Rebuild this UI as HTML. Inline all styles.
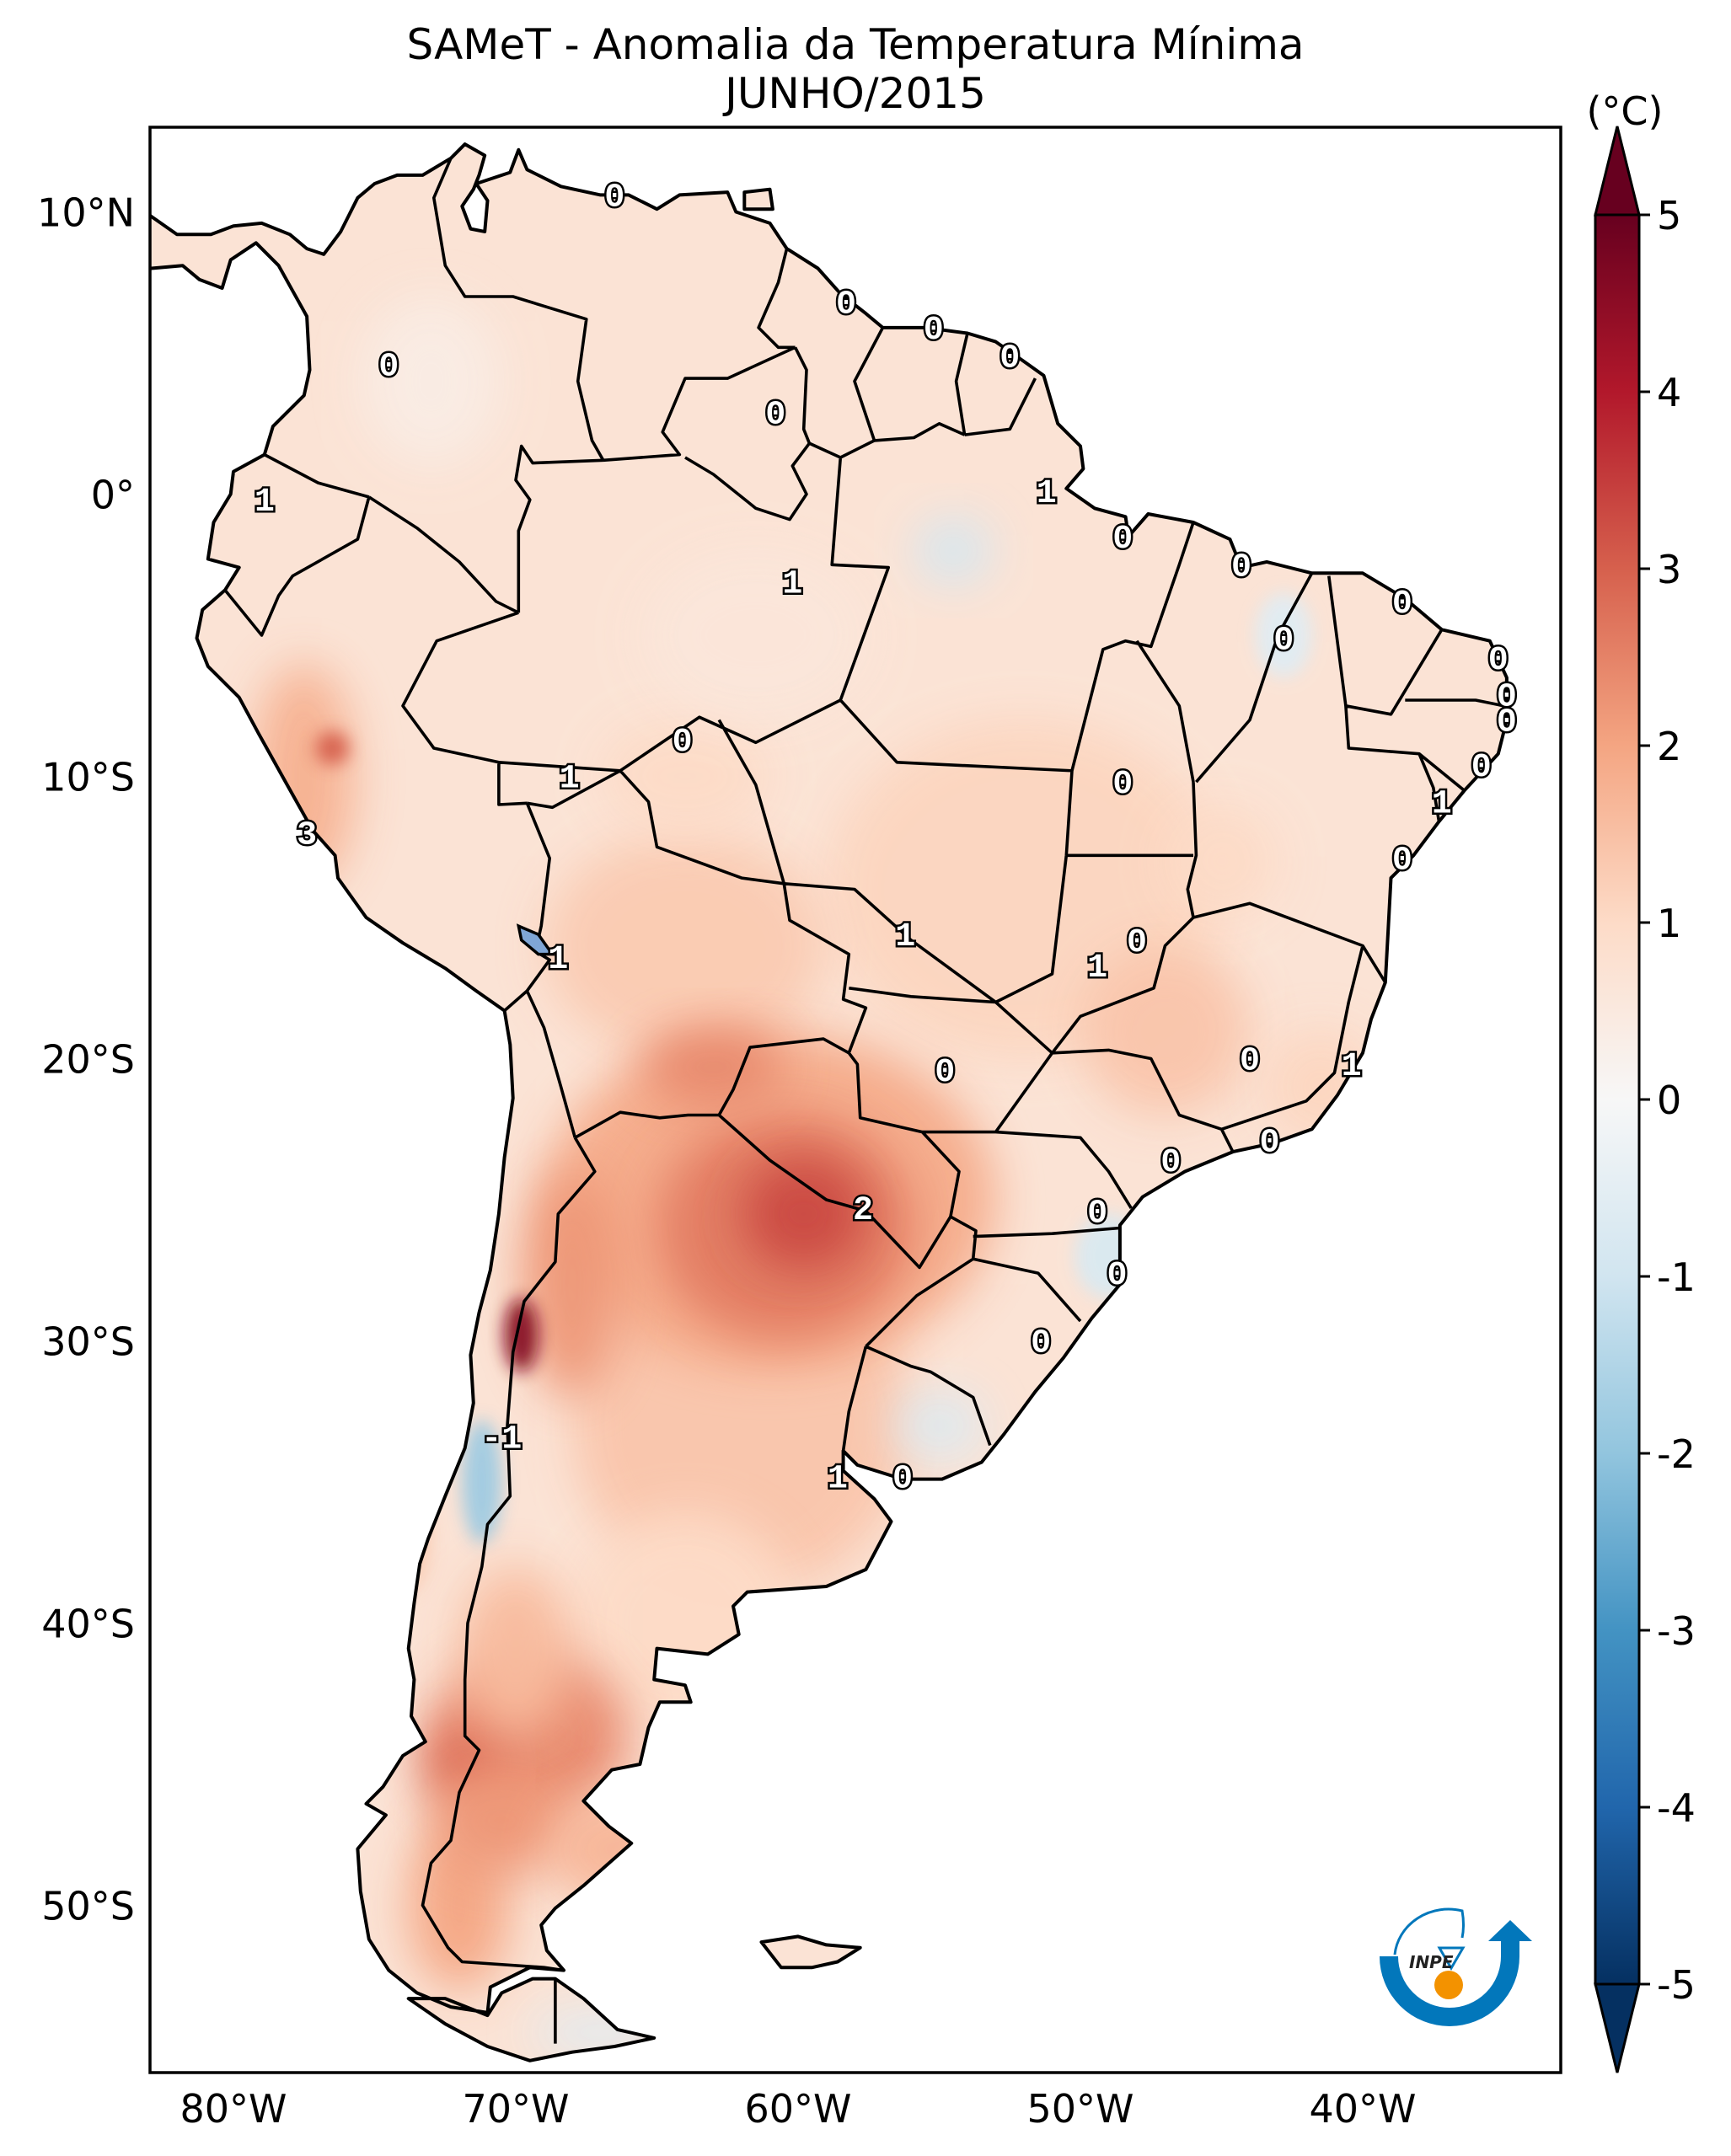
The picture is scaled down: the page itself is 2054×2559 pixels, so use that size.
<!DOCTYPE html>
<html><head><meta charset="utf-8"><style>
html,body{margin:0;padding:0;background:#fff}
svg{display:block}
text{font-family:"DejaVu Sans","Liberation Sans",sans-serif}
</style></head><body>
<svg id="fig" width="2054" height="2559" viewBox="0 0 2054 2559" xmlns="http://www.w3.org/2000/svg">
<defs>
<linearGradient id="cbgrad" x1="0" y1="0" x2="0" y2="1">
<stop offset="0" stop-color="#67001f"/><stop offset="0.1" stop-color="#b2182b"/><stop offset="0.2" stop-color="#d6604d"/><stop offset="0.3" stop-color="#f4a582"/><stop offset="0.4" stop-color="#fddbc7"/><stop offset="0.5" stop-color="#f7f7f7"/><stop offset="0.6" stop-color="#d1e5f0"/><stop offset="0.7" stop-color="#92c5de"/><stop offset="0.8" stop-color="#4393c3"/><stop offset="0.9" stop-color="#2166ac"/><stop offset="1" stop-color="#053061"/>
</linearGradient>
<clipPath id="frameclip"><rect x="178" y="151" width="1674" height="2309"/></clipPath>
<filter id="blur1" x="-50%" y="-50%" width="200%" height="200%"><feGaussianBlur stdDeviation="28"/></filter>
<filter id="blur2" x="-50%" y="-50%" width="200%" height="200%"><feGaussianBlur stdDeviation="10"/></filter>
</defs>
<text x="1015" y="70" text-anchor="middle" font-size="50">SAMeT - Anomalia da Temperatura Mínima</text>
<text x="1015" y="128" text-anchor="middle" font-size="50">JUNHO/2015</text>
<g id="mapg" clip-path="url(#frameclip)">
  <clipPath id="landclip"><path id="landclipPath"/></clipPath>
  <path id="landBase" fill="#fadccd"/>
  <g id="blobs" clip-path="url(#landclip)"></g>
  <path id="coast" fill="none" stroke="#000" stroke-width="4" stroke-linejoin="round"/>
  <path id="borders" fill="none" stroke="#000" stroke-width="3.6" stroke-linejoin="round"/>
  <path id="lake" fill="#7fa6d6" stroke="#000" stroke-width="3.5"/>
  <g id="clabels"></g>
</g>
<rect x="178" y="151" width="1674" height="2309" fill="none" stroke="#000" stroke-width="3.5"/>
<g id="axes"></g>
<g>
  <path d="M1648 2322 A72 72 0 0 0 1792 2322 L1792 2300" fill="none" stroke="#0277bb" stroke-width="22"/>
  <polygon points="1766,2304 1818,2304 1792,2279" fill="#0277bb"/>
  <path d="M1655 2320 A64 60 0 0 1 1735 2268 Q1738 2285 1735 2300" fill="none" stroke="#0277bb" stroke-width="3"/>
  <polygon points="1708,2312 1736,2312 1722,2336" fill="#fff" stroke="#0277bb" stroke-width="3"/>
  <circle cx="1719" cy="2356" r="17" fill="#f39200"/>
  <text x="1672" y="2336" font-size="20" font-style="italic" font-weight="bold" fill="#222">INPE</text>
</g>
<g id="colorbar">
  <polygon points="1893,255 1919,150 1945,255" fill="#67001f" stroke="#000" stroke-width="3"/>
  <polygon points="1893,2355 1919,2460 1945,2355" fill="#053061" stroke="#000" stroke-width="3"/>
  <rect x="1893" y="255" width="52" height="2100" fill="url(#cbgrad)" stroke="#000" stroke-width="3"/>
  <text x="1928" y="148" text-anchor="middle" font-size="46">(°C)</text>
</g>
</svg>
<script>
const lonTicks = [-80, -70, -60, -50, -40];
const lonTickLabels = ["80°W", "70°W", "60°W", "50°W", "40°W"];
const latTicks = [10, 0, -10, -20, -30, -40, -50];
const latTickLabels = ["10°N", "0°", "10°S", "20°S", "30°S", "40°S", "50°S"];
const cbTicks = [5, 4, 3, 2, 1, 0, -1, -2, -3, -4, -5];
const cbTickLabels = ["5", "4", "3", "2", "1", "0", "-1", "-2", "-3", "-4", "-5"];
const contourLon = [-66.5,-58.3,-55.2,-52.5,-74.5,-60.8,-78.9,-51.2,-48.5,-60.2,-44.3,-38.6,-42.8,-35.2,-34.9,-34.9,-35.8,-37.2,-64.1,-68.1,-48.5,-77.4,-38.6,-56.2,-48.0,-49.4,-68.5,-54.8,-44.0,-40.4,-43.3,-46.8,-49.4,-57.7,-48.7,-51.4,-70.5,-58.6,-56.3];
const contourLat = [10.6,6.8,5.9,4.9,4.6,2.9,-0.2,0.1,-1.5,-3.1,-2.5,-3.8,-5.1,-5.8,-7.1,-8.0,-9.6,-10.9,-8.7,-10.0,-10.2,-12.0,-12.9,-15.6,-15.8,-16.7,-16.4,-20.4,-20.0,-20.2,-22.9,-23.6,-25.4,-25.3,-27.6,-30.0,-33.4,-34.8,-34.8];
const contourVal = ["0","0","0","0","0","0","1","1","0","1","0","0","0","0","0","0","0","1","0","1","0","3","0","1","0","1","1","0","0","1","0","0","0","2","0","0","-1","1","0"];
// anomaly blobs: lon, lat, radii (deg), anomaly value
const blobLon = [-52,-64,-62,-64,-77.5,-61,-60.5,-59.8,-63,-68,-69.8,-69.5,-71.8,-72,-70.5,-74,-71.2,-54.5,-55,-67,-49,-42.8,-73,-70,-64,-47,-41.5,-45,-76.5,-61.5,-66];
const blobLat = [-14,-16,-33,-40,-10,-25,-26,-25.5,-20.3,-28,-29.8,-44,-45,-50,-47,-37,-35,-2,-33,-54.5,-27,-5,4,-41,-10,-19,-21,-13,-9,-5,-48];
const blobRx = [7,5,6,4,1.8,8,4.5,2.2,2.5,1.8,0.6,3.5,1.5,1.8,2.5,1,0.7,1.4,1.6,2.5,1.2,1,2.5,2,3,3,2,2,0.6,4,3];
const blobRy = [6,4,6,4,4,6,4,2,1.4,4,1.3,3,1.5,3,2,2,2.2,1.2,1.2,0.8,1.5,1.5,3,3,2,3,2,2,0.6,3,2];
const blobVal = [1.1,1.3,1.4,1.0,1.8,1.9,2.6,3.3,2.4,2.2,4.6,2.4,2.8,2.0,2.2,1.3,-1.8,-0.9,-0.7,-0.6,-0.8,-0.6,0.4,1.6,1.0,1.4,1.1,1.0,3.0,0.6,1.7];

const SX = 33.5, X0 = 2957, Y0 = 586.5;
function px(lon){ return X0 + SX*lon; }
function py(lat){ return Y0 - SX*lat; }
const RDBU = ["#053061","#2166ac","#4393c3","#92c5de","#d1e5f0","#f7f7f7","#fddbc7","#f4a582","#d6604d","#b2182b","#67001f"];
function hex(c){return [1,3,5].map(i=>parseInt(c.substr(i,2),16));}
function cmap(v){ let t=(Math.max(-5,Math.min(5,v))+5)/10*10; let i=Math.min(9,Math.floor(t)), f=t-i;
  const a=hex(RDBU[i]), b=hex(RDBU[i+1]); return "rgb("+a.map((x,k)=>Math.round(x+(b[k]-x)*f)).join(",")+")"; }

const NS="http://www.w3.org/2000/svg";
function mk(tag, attrs, parent){ const e=document.createElementNS(NS,tag); for(const k in attrs) e.setAttribute(k,attrs[k]); parent.appendChild(e); return e; }
function pathOf(pts, close){ return pts.map((p,i)=>(i?"L":"M")+px(p[0]).toFixed(1)+" "+py(p[1]).toFixed(1)).join(" ")+(close?" Z":""); }

const mainland = [[-84,9.9],[-83,9.9],[-82,9.2],[-80.8,9.2],[-80,9.5],[-79,9.6],[-78,9.2],[-77.4,8.7],[-76.8,8.5],[-76.2,9.3],[-75.6,10.5],[-75,11],[-74.2,11.3],[-73.3,11.3],[-72.3,11.9],[-71.8,12.4],[-71.1,12.0],[-71.3,11.3],[-71.5,10.8],[-71.9,10.2],[-71.6,9.4],[-71.1,9.3],[-71.0,10.4],[-71.4,11.0],[-70.2,11.4],[-69.9,12.2],[-69.6,11.5],[-68.4,10.9],[-67,10.6],[-66,10.6],[-65,10.1],[-64.2,10.6],[-62.5,10.7],[-62.2,10.0],[-61,9.6],[-60.4,8.7],[-59.3,8.0],[-58.5,7.1],[-57.6,6.4],[-57,5.9],[-55.5,5.9],[-54,5.7],[-53,5.4],[-52,4.7],[-51.3,4.2],[-50.8,2.5],[-50,1.7],[-49.9,0.9],[-50.5,0.2],[-49.5,-0.5],[-48.4,-0.8],[-48.3,-1.5],[-47.6,-0.7],[-46,-1.0],[-44.7,-1.6],[-44.3,-2.6],[-43.4,-2.4],[-41.8,-2.8],[-40,-2.8],[-38.5,-3.7],[-37.2,-4.8],[-35.5,-5.2],[-34.9,-6.5],[-34.9,-8.0],[-35.2,-9.2],[-36.4,-10.5],[-37.3,-11.6],[-38.2,-12.8],[-39.0,-13.6],[-39.1,-15.5],[-39.2,-17.3],[-39.7,-18.6],[-40,-19.8],[-40.9,-21.3],[-41.8,-22.5],[-43.2,-23.0],[-44.6,-23.3],[-46.3,-24.0],[-47.8,-24.9],[-48.6,-25.9],[-48.6,-28.0],[-49.6,-29.2],[-50.6,-30.6],[-51.6,-31.8],[-52.7,-33.3],[-53.5,-34.3],[-54.9,-34.9],[-56.3,-34.9],[-57.9,-34.4],[-58.4,-33.9],[-58.4,-34.6],[-57.3,-35.6],[-56.7,-36.4],[-57.6,-38.1],[-59.0,-38.7],[-61.8,-38.9],[-62.3,-39.4],[-62.1,-40.4],[-63.2,-41.1],[-65.0,-40.9],[-65.1,-42.0],[-64.0,-42.2],[-63.8,-42.8],[-64.9,-42.8],[-65.3,-43.7],[-65.6,-45.0],[-66.6,-45.2],[-67.6,-46.3],[-66.7,-47.2],[-65.9,-47.8],[-67.6,-49.3],[-68.6,-50.1],[-69.1,-50.7],[-68.9,-51.6],[-68.3,-52.3],[-69.5,-52.2],[-70.9,-52.9],[-71.0,-53.8],[-72.3,-53.6],[-73.5,-53.1],[-74.5,-52.3],[-75.2,-51.2],[-75.5,-49.5],[-75.6,-48.0],[-74.6,-46.8],[-75.3,-46.4],[-74.7,-45.8],[-74.0,-44.7],[-73.2,-44.2],[-73.7,-43.3],[-73.6,-42.0],[-73.8,-40.9],[-73.6,-39.3],[-73.4,-37.9],[-73.1,-37.0],[-72.5,-35.5],[-71.8,-33.8],[-71.5,-32.2],[-71.6,-30.5],[-71.3,-29.0],[-70.9,-27.5],[-70.6,-25.5],[-70.4,-23.5],[-70.1,-21.4],[-70.2,-19.5],[-70.4,-18.3],[-71.4,-17.6],[-72.5,-16.8],[-74.0,-15.9],[-75.3,-15.0],[-76.3,-13.6],[-76.4,-12.8],[-77.2,-11.9],[-78.1,-10.3],[-79.1,-8.5],[-79.8,-7.2],[-80.9,-6.1],[-81.3,-5.1],[-81.1,-4.1],[-80.3,-3.4],[-79.8,-2.6],[-80.9,-2.3],[-80.7,-1.0],[-80.1,0.0],[-80.0,0.8],[-78.9,1.4],[-78.6,2.4],[-77.5,3.5],[-77.3,4.4],[-77.4,6.3],[-77.9,7.2],[-78.4,8.1],[-79.2,8.9],[-80.1,8.3],[-80.4,7.3],[-81.2,7.6],[-81.8,8.1],[-82.9,8.0],[-84,8.3]];
const tdf = [[-68.6,-52.6],[-67.6,-53.3],[-66.4,-54.4],[-65.1,-54.7],[-66.5,-55.0],[-68.0,-55.2],[-69.5,-55.5],[-71.0,-55.0],[-72.5,-54.2],[-73.8,-53.3],[-72.5,-53.3],[-71.0,-53.9],[-70.5,-53.1],[-69.4,-52.6]];
const falk = [[-61.3,-51.3],[-60.0,-51.1],[-59.0,-51.4],[-57.8,-51.5],[-58.6,-52.0],[-59.5,-52.2],[-60.6,-52.2]];
const trin = [[-61.9,10.7],[-61.0,10.8],[-60.9,10.1],[-61.9,10.1]];
const titicaca = [[-69.9,-15.3],[-69.2,-15.6],[-68.7,-16.3],[-69.2,-16.3],[-69.8,-15.8]];
const borders = [
 [[-72.3,11.9],[-72.9,10.5],[-72.5,8.1],[-71.8,7.0],[-70.1,7.0],[-67.5,6.2],[-67.8,4.0],[-67.3,1.9],[-66.9,1.2]],
 [[-66.9,1.2],[-69.4,1.1],[-69.8,1.7],[-70.0,0.5],[-69.5,-0.2],[-69.9,-1.3],[-69.9,-4.2]],
 [[-69.9,-4.2],[-70.7,-3.8],[-72.0,-2.4],[-73.5,-1.2],[-75.2,-0.1]],
 [[-75.2,-0.1],[-77.0,0.4],[-78.9,1.4]],
 [[-75.2,-0.1],[-75.6,-1.6],[-77.9,-2.9],[-78.4,-3.6],[-79.0,-5.0],[-80.3,-3.4]],
 [[-60.4,8.7],[-60.7,7.5],[-61.4,5.9],[-60.7,5.2],[-60.1,5.2]],
 [[-60.1,5.2],[-62.5,4.1],[-64.0,4.1],[-64.8,2.2],[-64.2,1.4],[-66.9,1.2]],
 [[-60.1,5.2],[-59.7,4.4],[-59.8,2.3],[-59.6,1.8],[-58.5,1.3],[-57.3,1.9]],
 [[-57.0,5.9],[-58.0,4.0],[-57.3,1.9]],
 [[-57.3,1.9],[-55.9,2.0],[-55,2.5],[-54.1,2.1]],
 [[-54.0,5.7],[-54.4,4.0],[-54.1,2.1]],
 [[-54.1,2.1],[-52.5,2.3],[-51.6,4.1]],
 [[-69.9,-4.2],[-72.8,-5.2],[-74.0,-7.5],[-72.9,-9.0],[-70.6,-9.5],[-70.6,-11.0],[-69.6,-10.95]],
 [[-69.6,-10.95],[-68.7,-11.1],[-66.3,-9.8],[-65.3,-10.9],[-65.0,-12.5],[-62.0,-13.6],[-60.5,-13.8],[-60.3,-15.1],[-58.2,-16.3],[-58.4,-17.9],[-57.6,-18.2],[-58.2,-19.8]],
 [[-58.2,-19.8],[-59.1,-19.3],[-61.7,-19.6],[-62.3,-21.1],[-62.8,-22.0]],
 [[-69.6,-10.95],[-68.8,-12.9],[-69.1,-15.3],[-69.3,-16.2],[-68.8,-16.5],[-69.6,-17.6],[-70.4,-18.3]],
 [[-69.6,-17.6],[-69.0,-18.9],[-68.4,-21.0],[-67.9,-22.8]],
 [[-67.9,-22.8],[-66.3,-21.9],[-64.9,-22.1],[-63.9,-22.0],[-62.8,-22.0]],
 [[-67.9,-22.8],[-67.2,-24.0],[-68.5,-25.5],[-68.6,-27.2],[-69.7,-28.6],[-70.1,-30.4],[-70.3,-33.0],[-70.2,-35.5],[-71.0,-36.5],[-71.2,-38.0],[-71.7,-40.0],[-71.8,-42.0],[-71.8,-44.0],[-71.3,-44.5],[-72.0,-46.0],[-72.3,-47.7],[-73.0,-48.5],[-73.3,-50.0],[-72.4,-51.5],[-71.9,-52.0],[-69.0,-52.2],[-68.3,-52.3]],
 [[-68.6,-52.6],[-68.6,-54.9]],
 [[-62.8,-22.0],[-61.0,-23.6],[-59.0,-25.0],[-57.6,-25.4],[-55.7,-27.4],[-54.6,-25.6]],
 [[-54.6,-25.6],[-54.3,-24.0],[-55.6,-22.6],[-57.8,-22.1],[-57.9,-20.2],[-58.2,-19.8]],
 [[-54.6,-25.6],[-53.7,-26.1],[-53.8,-27.1],[-55.8,-28.4],[-57.6,-30.2]],
 [[-57.6,-30.2],[-56.0,-30.9],[-55.3,-31.1],[-53.8,-32.0],[-53.2,-33.7]],
 [[-57.6,-30.2],[-58.2,-32.5],[-58.4,-33.9]],
 [[-64.0,1.3],[-63.0,0.7],[-61.5,-0.5],[-60.3,-0.9],[-59.7,0.0],[-60.2,1.0],[-59.6,1.8]],
 [[-58.5,1.3],[-58.8,-2.5],[-56.8,-2.6],[-58.5,-7.3]],
 [[-58.5,-7.3],[-61.5,-8.8],[-63.5,-7.9],[-66.3,-9.8]],
 [[-66.3,-9.8],[-70.6,-9.5]],
 [[-62.8,-8.0],[-61.5,-10.3],[-60.5,-13.8]],
 [[-58.5,-7.3],[-56.5,-9.5],[-50.3,-9.8]],
 [[-50.3,-9.8],[-49.2,-5.5],[-48.4,-5.2],[-47.5,-5.4],[-46.5,-2.5],[-46.0,-1.0]],
 [[-48.0,-5.2],[-46.5,-7.5],[-46.0,-10.2]],
 [[-41.8,-2.8],[-43.0,-5.0],[-44.0,-8.0],[-45.9,-10.2]],
 [[-41.2,-2.9],[-40.6,-7.5],[-39.0,-7.8],[-37.2,-4.8]],
 [[-38.5,-7.3],[-36,-7.3],[-35,-7.5]],
 [[-40.6,-7.5],[-40.5,-9.0],[-38.0,-9.2],[-36.4,-10.5]],
 [[-38,-9.2],[-37.5,-10.4],[-37.3,-11.6]],
 [[-46.0,-10.2],[-45.9,-12.8],[-46.2,-14.0],[-46.0,-15.0],[-44.0,-14.5],[-40.0,-16.0],[-39.2,-17.3]],
 [[-50.5,-12.8],[-46.0,-12.8]],
 [[-60.5,-13.8],[-58.0,-14.0],[-56.0,-15.8],[-53.0,-18.0],[-51.0,-17.0],[-50.5,-12.8],[-50.3,-9.8]],
 [[-58.2,-17.5],[-56.0,-17.8],[-53.0,-18.0]],
 [[-53.0,-18.0],[-51.0,-19.8],[-53.0,-22.6],[-55.6,-22.6]],
 [[-51.0,-19.8],[-49.0,-19.7],[-47.5,-20.0],[-46.5,-22.0],[-45.0,-22.5],[-44.6,-23.3]],
 [[-51.0,-19.8],[-50.0,-18.5],[-47.4,-17.5],[-47.0,-16.0],[-46.0,-15.0]],
 [[-45.0,-22.5],[-42.0,-21.5],[-41.0,-20.5],[-40.5,-18.0],[-40.0,-16.0]],
 [[-53.0,-22.6],[-50.0,-22.8],[-49.0,-24.0],[-48.2,-25.3]],
 [[-53.8,-26.3],[-51,-26.2],[-48.6,-26.0]],
 [[-53.8,-27.1],[-51.5,-27.6],[-50.0,-29.3]]
];

const landD = pathOf(mainland,true)+" "+pathOf(tdf,true)+" "+pathOf(falk,true)+" "+pathOf(trin,true);
document.getElementById('landBase').setAttribute('d', landD);
document.getElementById('landclipPath').setAttribute('d', landD);
document.getElementById('coast').setAttribute('d', landD);
document.getElementById('borders').setAttribute('d', borders.map(b=>pathOf(b,false)).join(" "));
document.getElementById('lake').setAttribute('d', pathOf(titicaca,true));
document.getElementById('landBase').setAttribute('fill', cmap(0.7));

const blobs = document.getElementById('blobs');
for(let i=0;i<blobLon.length;i++){
  const big = blobRx[i] > 1.2;
  const e = mk('ellipse', {cx:px(blobLon[i]), cy:py(blobLat[i]), rx:SX*blobRx[i], ry:SX*blobRy[i], fill:cmap(blobVal[i]), filter: big?'url(#blur1)':'url(#blur2)', opacity:0.95}, blobs);
  
  
}

const cl = document.getElementById('clabels');
for(let i=0;i<contourVal.length;i++){
  const t = mk('text', {x:px(contourLon[i]), y:py(contourLat[i])+13, 'text-anchor':'middle', 'font-size':40, 'font-weight':'bold', fill:'#fff', stroke:'#000', 'stroke-width':5, 'paint-order':'stroke', style:'font-family:"Liberation Mono",monospace'}, cl);
  t.textContent = contourVal[i];
  
  
}

const axes = document.getElementById('axes');
for(let i=0;i<lonTicks.length;i++){
  const t = mk('text', {x:px(lonTicks[i]), y:2519, 'text-anchor':'middle', 'font-size':46}, axes);
  t.textContent = lonTickLabels[i];
  
  
}
for(let i=0;i<latTicks.length;i++){
  const t = mk('text', {x:160, y:py(latTicks[i])+17, 'text-anchor':'end', 'font-size':46}, axes);
  t.textContent = latTickLabels[i];
  
  
}
const cb = document.getElementById('colorbar');
function cby(v){ return 255 + (5 - v) * 210; }
for(let i=0;i<cbTicks.length;i++){
  const y = cby(cbTicks[i]);
  const l = mk('line', {x1:1945, x2:1958, y1:y, y2:y, stroke:'#000', 'stroke-width':3}, cb);
  
  
  const t = mk('text', {x:1966, y:y+17, 'font-size':46}, cb);
  t.textContent = cbTickLabels[i];
  
  
}
</script>
</body></html>
